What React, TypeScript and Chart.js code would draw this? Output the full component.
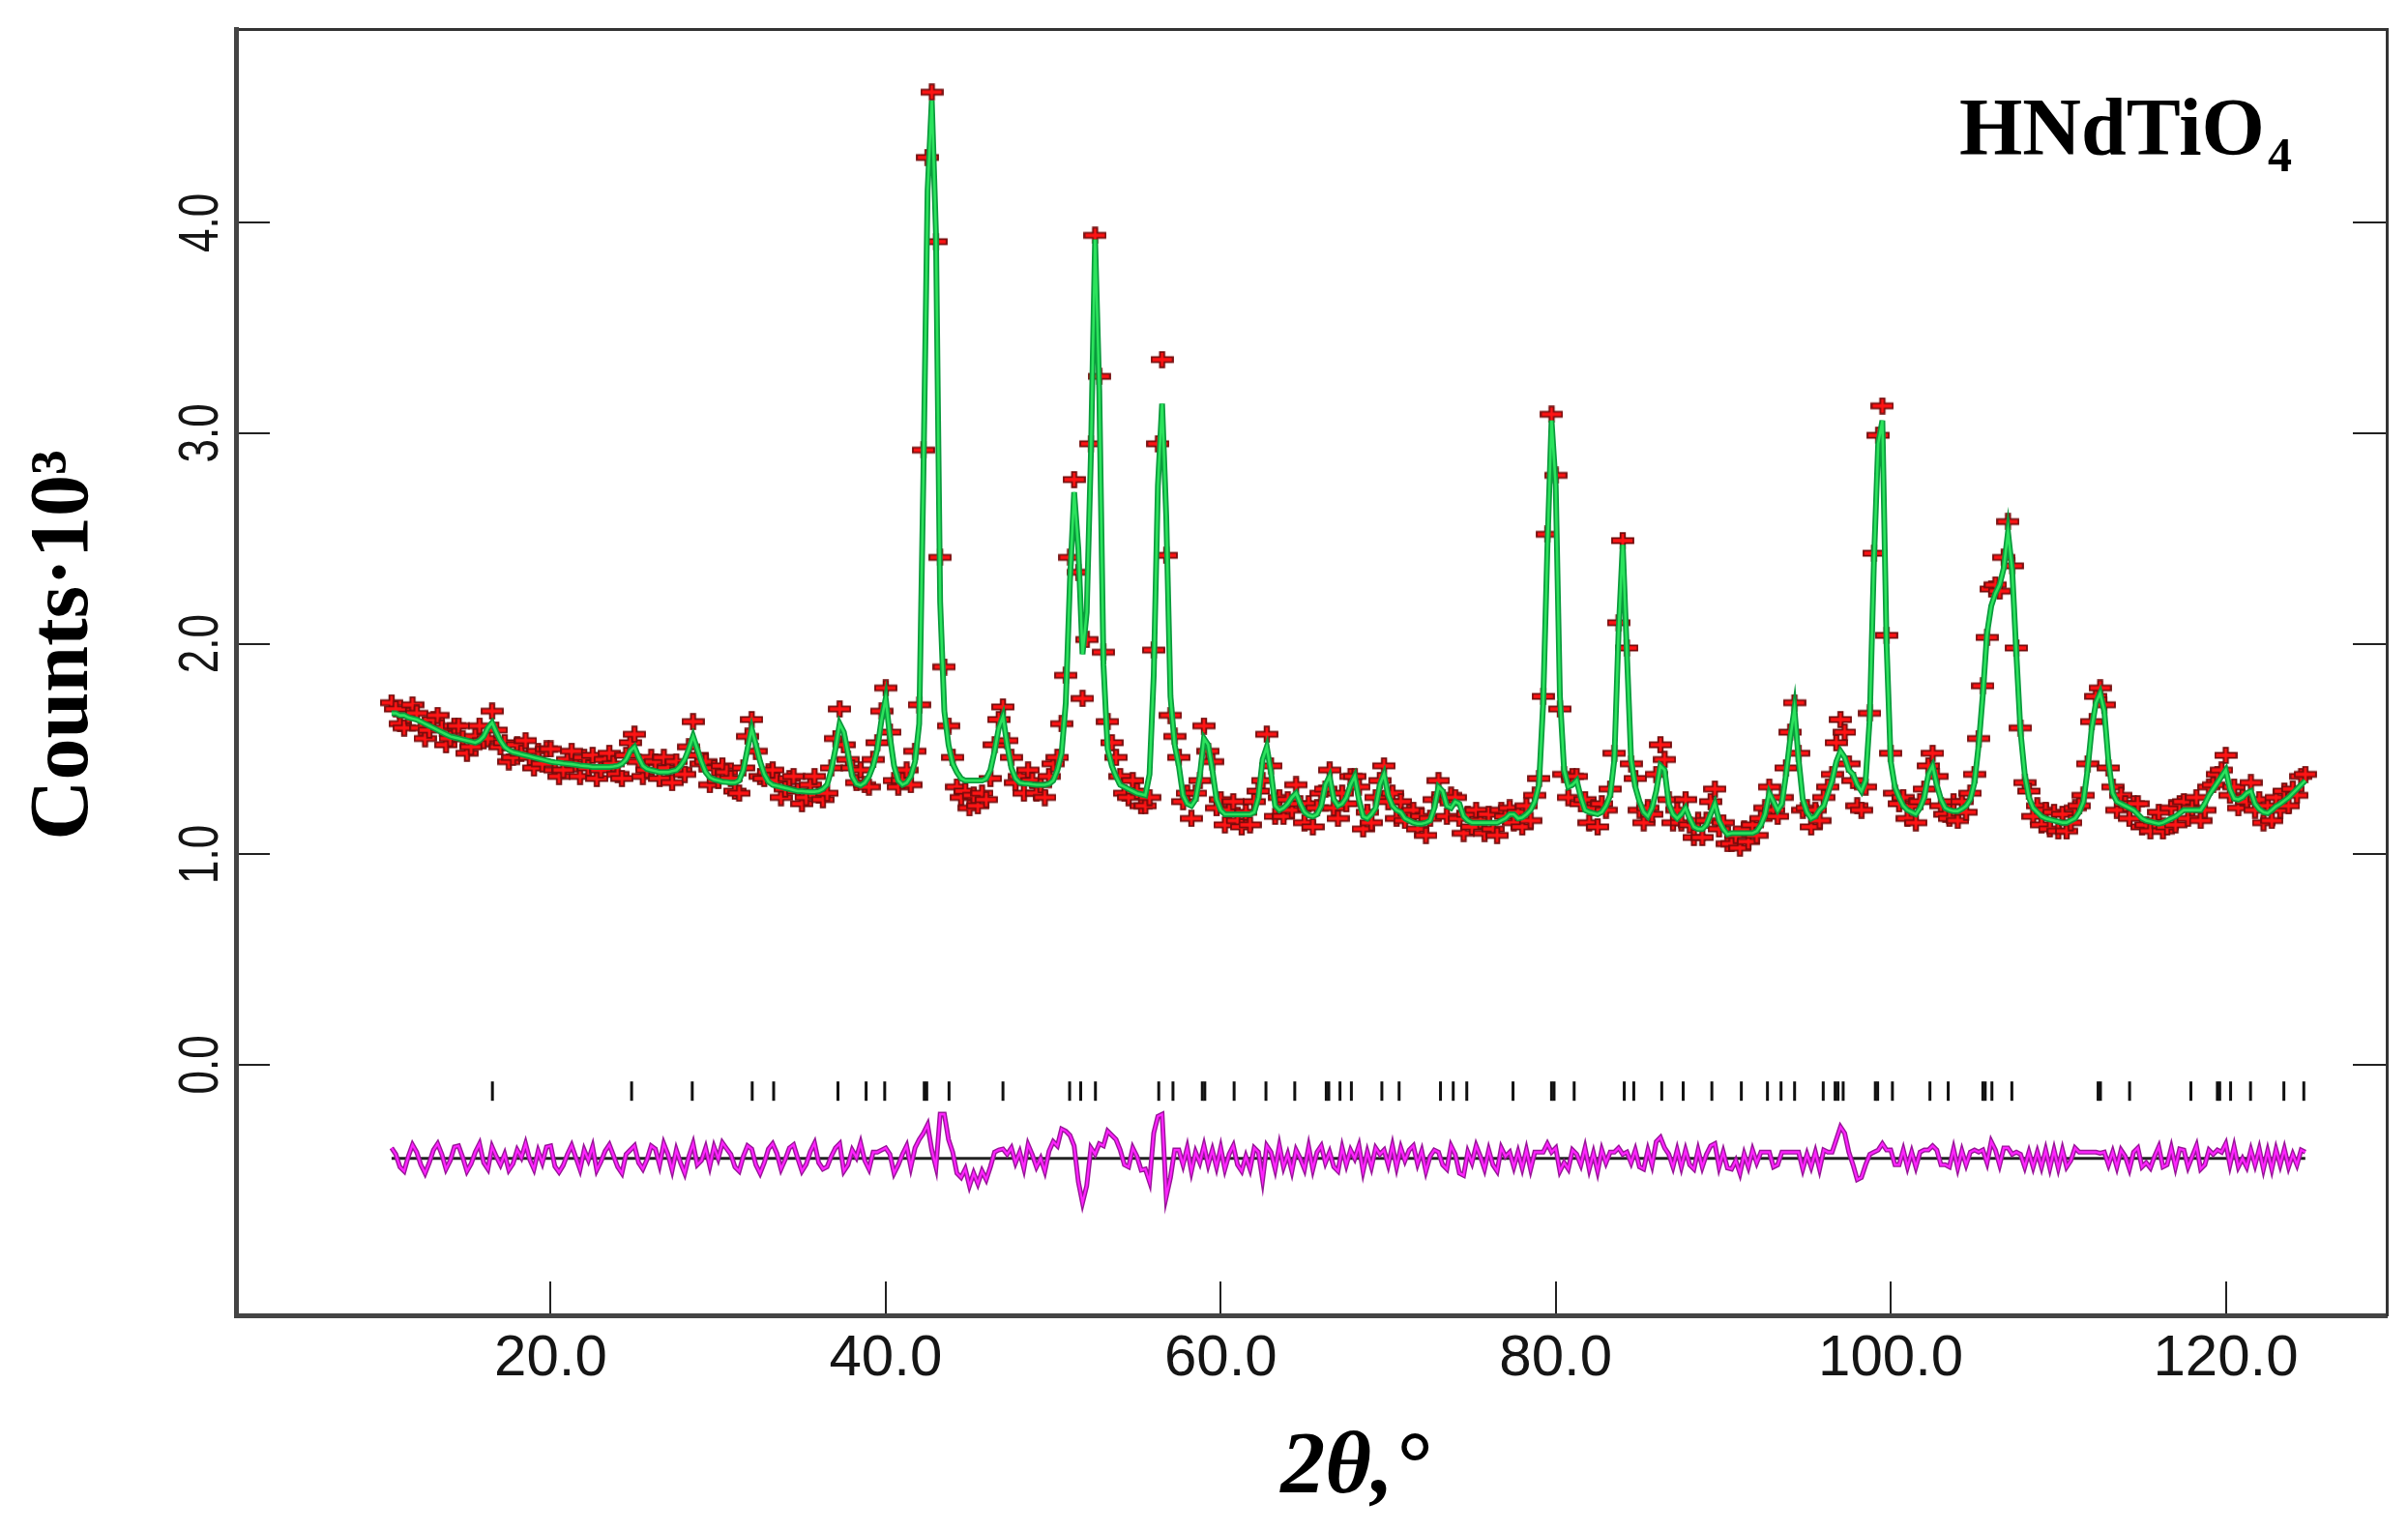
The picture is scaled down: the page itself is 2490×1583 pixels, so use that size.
import React, { useEffect, useRef } from "react";
import { Chart, registerables } from "chart.js";

Chart.register(...registerables);

// ---- Data (counts in units of 10^3) ----
const START_2THETA = 10.5; // first measured angle, degrees
const STEP_2THETA = 0.25; // angular step of the pattern, degrees

// calculated profile (green line), one row per degree (4 steps)
const calcCounts = [
  /*10.5*/ 1.67, 1.67, 1.66, 1.66,
  /*11.5*/ 1.65, 1.645, 1.64, 1.63,
  /*12.5*/ 1.62, 1.61, 1.6, 1.59,
  /*13.5*/ 1.58, 1.57, 1.56, 1.555,
  /*14.5*/ 1.55, 1.545, 1.54, 1.535,
  /*15.5*/ 1.53, 1.54, 1.56, 1.6,
  /*16.5*/ 1.625, 1.58, 1.54, 1.51,
  /*17.5*/ 1.495, 1.485, 1.48, 1.475,
  /*18.5*/ 1.47, 1.465, 1.46, 1.455,
  /*19.5*/ 1.45, 1.445, 1.44, 1.437,
  /*20.5*/ 1.435, 1.432, 1.43, 1.428,
  /*21.5*/ 1.425, 1.422, 1.42, 1.418,
  /*22.5*/ 1.415, 1.415, 1.415, 1.415,
  /*23.5*/ 1.415, 1.417, 1.42, 1.43,
  /*24.5*/ 1.45, 1.49, 1.51, 1.46,
  /*25.5*/ 1.42, 1.405, 1.4, 1.395,
  /*26.5*/ 1.39, 1.39, 1.39, 1.395,
  /*27.5*/ 1.4, 1.42, 1.45, 1.5,
  /*28.5*/ 1.56, 1.5, 1.44, 1.39,
  /*29.5*/ 1.365, 1.355, 1.35, 1.345,
  /*30.5*/ 1.343, 1.34, 1.34, 1.35,
  /*31.5*/ 1.4, 1.5, 1.595, 1.52,
  /*32.5*/ 1.44, 1.38, 1.345, 1.33,
  /*33.5*/ 1.325, 1.32, 1.315, 1.31,
  /*34.5*/ 1.305, 1.3, 1.3, 1.298,
  /*35.5*/ 1.297, 1.297, 1.3, 1.31,
  /*36.5*/ 1.33, 1.4, 1.5, 1.62,
  /*37.5*/ 1.58, 1.48, 1.37, 1.335,
  /*38.5*/ 1.327, 1.34, 1.37, 1.42,
  /*39.5*/ 1.5, 1.64, 1.74, 1.56,
  /*40.5*/ 1.42, 1.35, 1.33, 1.34,
  /*41.5*/ 1.37, 1.44, 1.62, 2.8,
  /*42.5*/ 4.15, 4.58, 3.95, 2.2,
  /*43.5*/ 1.68, 1.52, 1.43, 1.39,
  /*44.5*/ 1.36, 1.35, 1.35, 1.35,
  /*45.5*/ 1.35, 1.35, 1.36, 1.4,
  /*46.5*/ 1.49, 1.6, 1.655, 1.52,
  /*47.5*/ 1.41, 1.36, 1.34, 1.337,
  /*48.5*/ 1.335, 1.332, 1.33, 1.33,
  /*49.5*/ 1.33, 1.335, 1.35, 1.4,
  /*50.5*/ 1.48, 1.72, 2.3, 2.72,
  /*51.5*/ 2.45, 1.95, 2.15, 2.9,
  /*52.5*/ 3.92, 3.2, 1.9, 1.5,
  /*53.5*/ 1.42, 1.37, 1.33, 1.32,
  /*54.5*/ 1.31, 1.3, 1.29, 1.285,
  /*55.5*/ 1.28, 1.38, 1.85, 2.75,
  /*56.5*/ 3.14, 2.6, 1.75, 1.52,
  /*57.5*/ 1.42, 1.28, 1.24, 1.23,
  /*58.5*/ 1.26, 1.37, 1.55, 1.52,
  /*59.5*/ 1.4, 1.26, 1.21, 1.19,
  /*60.5*/ 1.19, 1.19, 1.19, 1.19,
  /*61.5*/ 1.19, 1.19, 1.2, 1.27,
  /*62.5*/ 1.45, 1.51, 1.39, 1.23,
  /*63.5*/ 1.21, 1.22, 1.24, 1.27,
  /*64.5*/ 1.29, 1.24, 1.2, 1.185,
  /*65.5*/ 1.18, 1.19, 1.23, 1.33,
  /*66.5*/ 1.37, 1.26, 1.23, 1.24,
  /*67.5*/ 1.27, 1.33, 1.37, 1.26,
  /*68.5*/ 1.18, 1.17, 1.19, 1.22,
  /*69.5*/ 1.33, 1.38, 1.28, 1.23,
  /*70.5*/ 1.21, 1.2, 1.17, 1.16,
  /*71.5*/ 1.15, 1.145, 1.145, 1.15,
  /*72.5*/ 1.16, 1.22, 1.32, 1.3,
  /*73.5*/ 1.23, 1.22, 1.25, 1.24,
  /*74.5*/ 1.18, 1.16, 1.15, 1.15,
  /*75.5*/ 1.15, 1.15, 1.15, 1.15,
  /*76.5*/ 1.15, 1.16, 1.17, 1.19,
  /*77.5*/ 1.19, 1.17, 1.175, 1.19,
  /*78.5*/ 1.21, 1.25, 1.33, 1.72,
  /*79.5*/ 2.45, 3.06, 2.75, 1.75,
  /*80.5*/ 1.4, 1.32, 1.33, 1.35,
  /*81.5*/ 1.27, 1.21, 1.2, 1.195,
  /*82.5*/ 1.19, 1.2, 1.23, 1.28,
  /*83.5*/ 1.45, 2.05, 2.47, 1.95,
  /*84.5*/ 1.45, 1.32, 1.25, 1.2,
  /*85.5*/ 1.18, 1.22, 1.3, 1.42,
  /*86.5*/ 1.4, 1.24, 1.19, 1.17,
  /*87.5*/ 1.19, 1.22, 1.17, 1.13,
  /*88.5*/ 1.12, 1.12, 1.14, 1.19,
  /*89.5*/ 1.24, 1.16, 1.12, 1.095,
  /*90.5*/ 1.1, 1.1, 1.1, 1.1,
  /*91.5*/ 1.1, 1.1, 1.11, 1.14,
  /*92.5*/ 1.19, 1.29, 1.25, 1.21,
  /*93.5*/ 1.24, 1.38, 1.55, 1.69,
  /*94.5*/ 1.45, 1.26, 1.2, 1.17,
  /*95.5*/ 1.18, 1.21, 1.23, 1.29,
  /*96.5*/ 1.35, 1.44, 1.49, 1.46,
  /*97.5*/ 1.4, 1.38, 1.33, 1.3,
  /*98.5*/ 1.35, 1.65, 2.4, 2.95,
  /*99.5*/ 3.06, 2.0, 1.44, 1.32,
  /*100.5*/ 1.27, 1.23, 1.21, 1.2,
  /*101.5*/ 1.19, 1.22, 1.27, 1.38,
  /*102.5*/ 1.42, 1.33, 1.26, 1.22,
  /*103.5*/ 1.21, 1.205, 1.205, 1.215,
  /*104.5*/ 1.23, 1.26, 1.34, 1.52,
  /*105.5*/ 1.76, 2.05, 2.18, 2.24,
  /*106.5*/ 2.28, 2.36, 2.53, 2.35,
  /*107.5*/ 1.95, 1.58, 1.38, 1.27,
  /*108.5*/ 1.22, 1.2, 1.18, 1.17,
  /*109.5*/ 1.165, 1.16, 1.155, 1.15,
  /*110.5*/ 1.15, 1.16, 1.17, 1.2,
  /*111.5*/ 1.25, 1.4, 1.6, 1.72,
  /*112.5*/ 1.765, 1.68, 1.44, 1.29,
  /*113.5*/ 1.25, 1.24, 1.23, 1.22,
  /*114.5*/ 1.21, 1.19, 1.17, 1.16,
  /*115.5*/ 1.155, 1.15, 1.145, 1.15,
  /*116.5*/ 1.16, 1.17, 1.18, 1.195,
  /*117.5*/ 1.21, 1.21, 1.21, 1.21,
  /*118.5*/ 1.21, 1.24, 1.28, 1.31,
  /*119.5*/ 1.34, 1.37, 1.4, 1.31,
  /*120.5*/ 1.265, 1.26, 1.27, 1.29,
  /*121.5*/ 1.3, 1.24, 1.215, 1.2,
  /*122.5*/ 1.195, 1.21, 1.228, 1.24,
  /*123.5*/ 1.255, 1.27, 1.29, 1.31,
  /*124.5*/ 1.33, 1.35,
];

// observed intensities (red + markers), same angular grid
const obsCounts = [
  /*10.5*/ 1.72, 1.69, 1.62, 1.6,
  /*11.5*/ 1.66, 1.71, 1.67, 1.6,
  /*12.5*/ 1.55, 1.59, 1.64, 1.66,
  /*13.5*/ 1.6, 1.52, 1.55, 1.61,
  /*14.5*/ 1.61, 1.55, 1.48, 1.51,
  /*15.5*/ 1.56, 1.61, 1.54, 1.55,
  /*16.5*/ 1.68, 1.59, 1.51, 1.53,
  /*17.5*/ 1.44, 1.46, 1.52, 1.48,
  /*18.5*/ 1.54, 1.46, 1.41, 1.49,
  /*19.5*/ 1.43, 1.5, 1.5, 1.4,
  /*20.5*/ 1.37, 1.4, 1.45, 1.49,
  /*21.5*/ 1.43, 1.37, 1.46, 1.41,
  /*22.5*/ 1.47, 1.36, 1.4, 1.45,
  /*23.5*/ 1.48, 1.43, 1.38, 1.36,
  /*24.5*/ 1.47, 1.53, 1.57, 1.44,
  /*25.5*/ 1.37, 1.4, 1.46, 1.44,
  /*26.5*/ 1.36, 1.46, 1.41, 1.34,
  /*27.5*/ 1.44, 1.4, 1.38, 1.51,
  /*28.5*/ 1.63, 1.47, 1.43, 1.44,
  /*29.5*/ 1.33, 1.41, 1.35, 1.42,
  /*30.5*/ 1.39, 1.36, 1.3, 1.29,
  /*31.5*/ 1.41, 1.56, 1.64, 1.49,
  /*32.5*/ 1.37, 1.36, 1.39, 1.4,
  /*33.5*/ 1.35, 1.27, 1.31, 1.36,
  /*34.5*/ 1.37, 1.3, 1.24, 1.27,
  /*35.5*/ 1.33, 1.37, 1.28, 1.26,
  /*36.5*/ 1.29, 1.41, 1.55, 1.69,
  /*37.5*/ 1.52, 1.45, 1.41, 1.34,
  /*38.5*/ 1.4, 1.33, 1.32, 1.45,
  /*39.5*/ 1.53, 1.68, 1.79, 1.58,
  /*40.5*/ 1.35, 1.32, 1.35, 1.4,
  /*41.5*/ 1.33, 1.49, 1.71, 2.92,
  /*42.5*/ 4.31, 4.62, 3.91, 2.41,
  /*43.5*/ 1.89, 1.61, 1.46, 1.32,
  /*44.5*/ 1.27, 1.3, 1.22, 1.28,
  /*45.5*/ 1.23, 1.29, 1.26, 1.36,
  /*46.5*/ 1.52, 1.64, 1.7, 1.54,
  /*47.5*/ 1.46, 1.34, 1.37, 1.29,
  /*48.5*/ 1.4, 1.35, 1.29, 1.33,
  /*49.5*/ 1.27, 1.37, 1.43, 1.46,
  /*50.5*/ 1.62, 1.85, 2.41, 2.78,
  /*51.5*/ 2.34, 1.74, 2.02, 2.95,
  /*52.5*/ 3.94, 3.27, 1.96, 1.63,
  /*53.5*/ 1.53, 1.46, 1.37, 1.29,
  /*54.5*/ 1.27, 1.35, 1.3, 1.23,
  /*55.5*/ 1.23, 1.27, 1.97, 2.95,
  /*56.5*/ 3.35, 2.42, 1.66, 1.56,
  /*57.5*/ 1.46, 1.25, 1.29, 1.17,
  /*58.5*/ 1.29, 1.35, 1.61, 1.49,
  /*59.5*/ 1.44, 1.22, 1.26, 1.14,
  /*60.5*/ 1.21, 1.25, 1.16, 1.13,
  /*61.5*/ 1.2, 1.14, 1.25, 1.3,
  /*62.5*/ 1.35, 1.57, 1.42, 1.18,
  /*63.5*/ 1.27, 1.18, 1.26, 1.21,
  /*64.5*/ 1.33, 1.24, 1.15, 1.24,
  /*65.5*/ 1.13, 1.22, 1.29, 1.31,
  /*66.5*/ 1.4, 1.22, 1.17, 1.29,
  /*67.5*/ 1.24, 1.37, 1.37, 1.32,
  /*68.5*/ 1.12, 1.2, 1.15, 1.27,
  /*69.5*/ 1.35, 1.42, 1.25, 1.29,
  /*70.5*/ 1.17, 1.25, 1.16, 1.2,
  /*71.5*/ 1.21, 1.12, 1.18, 1.09,
  /*72.5*/ 1.17, 1.26, 1.35, 1.27,
  /*73.5*/ 1.18, 1.28, 1.27, 1.17,
  /*74.5*/ 1.1, 1.19, 1.13, 1.21,
  /*75.5*/ 1.16, 1.1, 1.19, 1.12,
  /*76.5*/ 1.09, 1.21, 1.18, 1.22,
  /*77.5*/ 1.15, 1.2, 1.13, 1.23,
  /*78.5*/ 1.16, 1.28, 1.36, 1.75,
  /*79.5*/ 2.52, 3.09, 2.8, 1.69,
  /*80.5*/ 1.38, 1.27, 1.37, 1.37,
  /*81.5*/ 1.24, 1.26, 1.15, 1.22,
  /*82.5*/ 1.13, 1.24, 1.21, 1.31,
  /*83.5*/ 1.48, 2.1, 2.49, 1.98,
  /*84.5*/ 1.43, 1.36, 1.21, 1.15,
  /*85.5*/ 1.22, 1.19, 1.38, 1.52,
  /*86.5*/ 1.45, 1.26, 1.15, 1.21,
  /*87.5*/ 1.15, 1.26, 1.14, 1.08,
  /*88.5*/ 1.16, 1.08, 1.16, 1.25,
  /*89.5*/ 1.31, 1.12, 1.15, 1.05,
  /*90.5*/ 1.05, 1.09, 1.03, 1.12,
  /*91.5*/ 1.06, 1.14, 1.09, 1.17,
  /*92.5*/ 1.22, 1.32, 1.21, 1.18,
  /*93.5*/ 1.27, 1.41, 1.58, 1.72,
  /*94.5*/ 1.48, 1.21, 1.22, 1.13,
  /*95.5*/ 1.21, 1.16, 1.27, 1.32,
  /*96.5*/ 1.38, 1.53, 1.64, 1.58,
  /*97.5*/ 1.43, 1.35, 1.23, 1.21,
  /*98.5*/ 1.32, 1.67, 2.43, 2.99,
  /*99.5*/ 3.13, 2.04, 1.48, 1.29,
  /*100.5*/ 1.24, 1.27, 1.17, 1.23,
  /*101.5*/ 1.15, 1.25, 1.31, 1.42,
  /*102.5*/ 1.48, 1.37, 1.23, 1.19,
  /*103.5*/ 1.17, 1.25, 1.16, 1.25,
  /*104.5*/ 1.2, 1.29, 1.38, 1.55,
  /*105.5*/ 1.8, 2.03, 2.26, 2.28,
  /*106.5*/ 2.25, 2.41, 2.58, 2.37,
  /*107.5*/ 1.98, 1.6, 1.34, 1.3,
  /*108.5*/ 1.18, 1.23, 1.14, 1.21,
  /*109.5*/ 1.12, 1.2, 1.11, 1.19,
  /*110.5*/ 1.11, 1.15, 1.22, 1.23,
  /*111.5*/ 1.28, 1.43, 1.63, 1.75,
  /*112.5*/ 1.79, 1.71, 1.41, 1.32,
  /*113.5*/ 1.21, 1.28, 1.24, 1.17,
  /*114.5*/ 1.24, 1.24, 1.13, 1.14,
  /*115.5*/ 1.11, 1.16, 1.2, 1.11,
  /*116.5*/ 1.13, 1.22, 1.14, 1.24,
  /*117.5*/ 1.25, 1.17, 1.22, 1.27,
  /*118.5*/ 1.16, 1.21, 1.32, 1.33,
  /*119.5*/ 1.38, 1.4, 1.47, 1.28,
  /*120.5*/ 1.32, 1.22, 1.27, 1.25,
  /*121.5*/ 1.34, 1.21, 1.26, 1.15,
  /*122.5*/ 1.23, 1.16, 1.27, 1.21,
  /*123.5*/ 1.3, 1.23, 1.31, 1.28,
  /*124.5*/ 1.37, 1.38,
];

// Bragg reflection positions (2θ, degrees)
const reflectionPositions = [
  16.52, 24.83, 28.45, 32.03, 33.31, 37.15, 38.83, 39.94, 42.3, 42.45, 43.78,
  47.0, 50.98, 51.64, 52.52, 56.3, 57.15, 58.9, 59.05, 60.8, 62.7, 64.42, 66.3,
  66.45, 67.12, 67.8, 69.62, 70.65, 73.12, 73.88, 74.69, 77.45, 79.75, 79.9,
  81.1, 84.09, 84.66, 86.33, 87.61, 89.32, 91.08, 92.64, 93.45, 94.26, 95.97,
  96.68, 96.85, 97.16, 99.08, 99.22, 100.1, 102.34, 103.43, 105.5, 105.64,
  106.04, 107.23, 112.38, 112.52, 114.26, 117.92, 119.5, 119.64, 120.29,
  121.48, 123.47, 124.66,
];

const DIFF_OFFSET = -0.445; // difference curve plotted below zero
const REFLECTION_LEVEL = -0.125; // row of reflection markers

const xTickValues = [20, 40, 60, 80, 100, 120];
const yTickValues = [0, 1, 2, 3, 4];
const X_MIN = 1.21;
const X_MAX = 129.61;
const Y_MIN = -1.19;
const Y_MAX = 4.92;

const Y_TITLE = "Counts\u00B710\u00B3";
const X_TITLE = "2\u03B8,\u00B0";
const FORMULA_MAIN = "HNdTiO";
const FORMULA_SUB = "4";

function makeCrossMarker(): HTMLCanvasElement {
  const c = document.createElement("canvas");
  c.width = 24;
  c.height = 18;
  const g = c.getContext("2d")!;
  const hx0 = 1, hx1 = 23, hy0 = 6.3, hy1 = 11.7;
  const vx0 = 9.7, vx1 = 14.3, vy0 = 1.2, vy1 = 16.8;
  g.beginPath();
  g.moveTo(vx0, vy0);
  g.lineTo(vx1, vy0);
  g.lineTo(vx1, hy0);
  g.lineTo(hx1, hy0);
  g.lineTo(hx1, hy1);
  g.lineTo(vx1, hy1);
  g.lineTo(vx1, vy1);
  g.lineTo(vx0, vy1);
  g.lineTo(vx0, hy1);
  g.lineTo(hx0, hy1);
  g.lineTo(hx0, hy0);
  g.lineTo(vx0, hy0);
  g.closePath();
  g.fillStyle = "#ff1414";
  g.fill();
  g.lineWidth = 1.8;
  g.strokeStyle = "#740c0c";
  g.stroke();
  return c;
}

const textPlugin = {
  id: "figureTexts",
  afterDraw(chart: any) {
    const ctx: CanvasRenderingContext2D = chart.ctx;
    ctx.save();
    // y tick labels, rotated and condensed, at the scale's own tick pixels
    const ys = chart.scales.y;
    ctx.fillStyle = "#151515";
    ctx.font = "58px 'Liberation Sans', Arial, sans-serif";
    ctx.textAlign = "center";
    ctx.textBaseline = "middle";
    for (const v of yTickValues) {
      const py = ys.getPixelForValue(v);
      ctx.save();
      ctx.translate(209, py);
      ctx.rotate(-Math.PI / 2);
      ctx.scale(0.76, 1);
      ctx.fillText(v.toFixed(1), 0, 0);
      ctx.restore();
    }
    ctx.fillStyle = "#000";
    // y-axis title (rotated)
    ctx.save();
    ctx.translate(90, 667);
    ctx.rotate(-Math.PI / 2);
    ctx.font = "bold 86px 'Liberation Serif', 'Times New Roman', serif";
    ctx.textAlign = "center";
    ctx.textBaseline = "alphabetic";
    ctx.fillText(Y_TITLE, 0, 0);
    ctx.restore();
    // x-axis title
    ctx.font = "italic bold 92px 'Liberation Serif', 'Times New Roman', serif";
    ctx.textAlign = "center";
    ctx.textBaseline = "alphabetic";
    ctx.fillText(X_TITLE, 1401, 1543);
    // formula label
    ctx.textAlign = "left";
    ctx.font = "bold 84px 'Liberation Serif', 'Times New Roman', serif";
    ctx.fillText(FORMULA_MAIN, 2026, 160);
    const w = ctx.measureText(FORMULA_MAIN).width;
    ctx.font = "bold 50px 'Liberation Serif', 'Times New Roman', serif";
    ctx.fillText(FORMULA_SUB, 2026 + w + 3, 177);
    ctx.restore();
  },
};

export default function App() {
  const ref = useRef<HTMLCanvasElement>(null);

  useEffect(() => {
    const canvas = ref.current;
    if (!canvas) return;
    const marker = makeCrossMarker();
    const thetaAt = (i: number) => START_2THETA + i * STEP_2THETA;
    const n = Math.min(calcCounts.length, obsCounts.length);
    const calcPts = calcCounts.slice(0, n).map((v, i) => ({ x: thetaAt(i), y: v }));
    const obsPts = obsCounts.slice(0, n).map((v, i) => ({ x: thetaAt(i), y: v }));
    const diffPts = obsCounts
      .slice(0, n)
      .map((v, i) => ({ x: thetaAt(i), y: v - calcCounts[i] + DIFF_OFFSET }));
    const zeroPts = [
      { x: thetaAt(0), y: DIFF_OFFSET },
      { x: thetaAt(n - 1), y: DIFF_OFFSET },
    ];
    const reflPts = reflectionPositions.map((t) => ({ x: t, y: REFLECTION_LEVEL }));

    const tickFont = { family: "'Liberation Sans', Arial, sans-serif", size: 60 };
    const fmt = (v: any) => Number(v).toFixed(1);
    const noPad = (s: any) => {
      s.paddingTop = 0;
      s.paddingBottom = 0;
      s.paddingLeft = 0;
      s.paddingRight = 0;
    };

    const chart = new Chart(canvas, {
      type: "line",
      data: {
        datasets: [
          {
            label: "Calculated",
            data: calcPts,
            borderColor: "#2be35d",
            borderWidth: 2.6,
            pointRadius: 0,
            tension: 0,
            order: 0,
          },
          {
            label: "Calculated edge",
            data: calcPts,
            borderColor: "#0a9a3c",
            borderWidth: 6,
            pointRadius: 0,
            tension: 0,
            order: 1,
          },
          {
            label: "Observed",
            data: obsPts,
            showLine: false,
            pointStyle: marker as any,
            pointRadius: 8,
            order: 2,
          },
          {
            label: "Difference",
            data: diffPts,
            borderColor: "#ff24ff",
            borderWidth: 2.2,
            pointRadius: 0,
            tension: 0,
            order: 3,
          },
          {
            label: "Difference edge",
            data: diffPts,
            borderColor: "#991499",
            borderWidth: 5,
            pointRadius: 0,
            tension: 0,
            order: 4,
          },
          {
            label: "Zero",
            data: zeroPts,
            borderColor: "#222",
            borderWidth: 3,
            pointRadius: 0,
            order: 5,
          },
          {
            label: "Reflections",
            data: reflPts,
            showLine: false,
            pointStyle: "line",
            pointRotation: 90,
            pointRadius: 10,
            pointBorderColor: "#111",
            pointBackgroundColor: "#111",
            pointBorderWidth: 3,
            borderColor: "#111",
            order: 6,
          } as any,
        ],
      },
      options: {
        animation: false,
        responsive: false,
        devicePixelRatio: 1,
        events: [],
        layout: { padding: 0 },
        plugins: { legend: { display: false }, tooltip: { enabled: false } },
        scales: {
          x: {
            type: "linear",
            position: "bottom",
            min: X_MIN,
            max: X_MAX,
            afterBuildTicks: (s: any) => {
              s.ticks = xTickValues.map((v) => ({ value: v }));
            },
            ticks: {
              callback: fmt,
              font: tickFont,
              color: "#151515",
              padding: 44,
              maxRotation: 0,
              minRotation: 0,
              autoSkip: false,
            },
            grid: {
              drawOnChartArea: false,
              drawTicks: true,
              tickLength: -35,
              color: "#222",
              lineWidth: 2,
            },
            border: { display: true, color: "#444", width: 5 },
            afterFit: (s: any) => {
              s.height = 223;
              noPad(s);
            },
          },
          x2: {
            type: "linear",
            position: "top",
            min: X_MIN,
            max: X_MAX,
            ticks: { display: false },
            grid: { display: false },
            border: { display: true, color: "#333", width: 3 },
            afterFit: (s: any) => {
              s.height = 30;
              noPad(s);
            },
          },
          y: {
            type: "linear",
            position: "left",
            min: Y_MIN,
            max: Y_MAX,
            afterBuildTicks: (s: any) => {
              s.ticks = yTickValues.map((v) => ({ value: v }));
            },
            ticks: { display: false },
            grid: {
              drawOnChartArea: false,
              drawTicks: true,
              tickLength: -35,
              color: "#222",
              lineWidth: 2,
            },
            border: { display: true, color: "#444", width: 5 },
            afterFit: (s: any) => {
              s.width = 244;
              noPad(s);
            },
          },
          y2: {
            type: "linear",
            position: "right",
            min: Y_MIN,
            max: Y_MAX,
            afterBuildTicks: (s: any) => {
              s.ticks = yTickValues.map((v) => ({ value: v }));
            },
            ticks: { display: false },
            grid: {
              drawOnChartArea: false,
              drawTicks: true,
              tickLength: -35,
              color: "#222",
              lineWidth: 2,
            },
            border: { display: true, color: "#333", width: 3 },
            afterFit: (s: any) => {
              s.width = 22;
              noPad(s);
            },
          },
        },
      } as any,
      plugins: [textPlugin],
    });
    return () => chart.destroy();
  }, []);

  return (
    <div
      style={{
        position: "fixed",
        left: 0,
        top: 0,
        width: 2490,
        height: 1583,
        background: "#fff",
      }}
    >
      <canvas ref={ref} width={2490} height={1583} style={{ display: "block" }} />
    </div>
  );
}
